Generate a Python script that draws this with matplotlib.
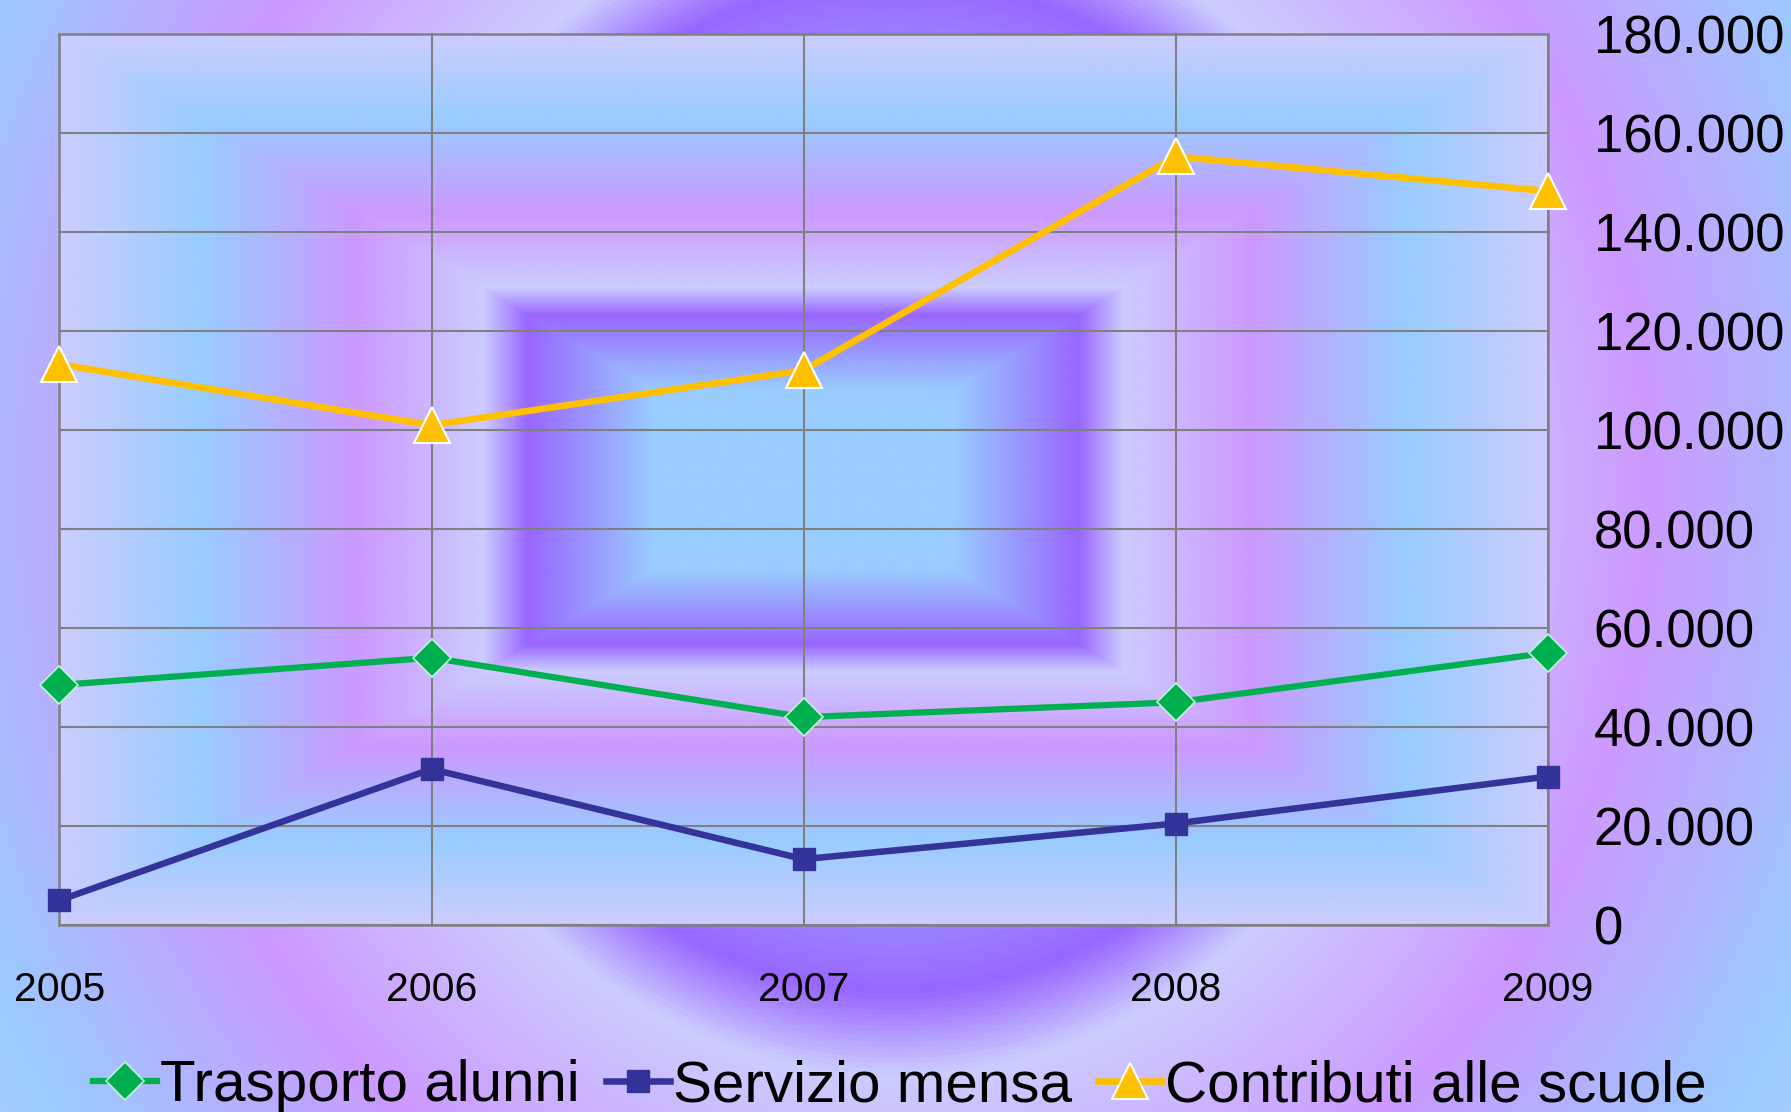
import numpy as np
import matplotlib
matplotlib.use('Agg')
import matplotlib.pyplot as plt
from matplotlib.colors import LinearSegmentedColormap
from matplotlib.lines import Line2D

# ---- data ----
years = ['2005', '2006', '2007', '2008', '2009']
trasporto = [48500, 54000, 42000, 45000, 55000]
mensa = [5000, 31500, 13300, 20500, 30000]
contributi = [113300, 101000, 112100, 155300, 148300]
y_ticks = [0, 20000, 40000, 60000, 80000, 100000, 120000, 140000, 160000, 180000]
series_names = ['Trasporto alunni', 'Servizio mensa', 'Contributi alle scuole']

plt.rcParams['font.family'] = ['Liberation Sans', 'DejaVu Sans']

W, H = 1791, 1112
fig = plt.figure(figsize=(W / 100, H / 100), dpi=100)

stops = [(0.0, '#99CCFF'), (0.2, '#99CCFF'), (0.37, '#9966FF'), (0.43, '#CCCCFF'),
         (0.6, '#CC99FF'), (0.81, '#99CCFF'), (1.0, '#CCCCFF')]
cmap = LinearSegmentedColormap.from_list('bg', stops)

# figure background (elliptical gradient)
bg = fig.add_axes([0, 0, 1, 1], zorder=-10)
yy, xx = np.mgrid[0:H, 0:W] + 0.5
d = np.sqrt(((xx - 895.5) / 1250.0) ** 2 + ((yy - 485.0) / 1371.0) ** 2)
bg.imshow(cmap(np.clip(d, 0, 1)), extent=[0, 1, 0, 1], aspect='auto', origin='upper',
          interpolation='bilinear')

# plot-area (rectangular gradient)
L, R, B, T = 0.0332, 0.8642, 0.1682, 0.9692
pw, ph = int((R - L) * W), int((T - B) * H)
v, u = np.mgrid[-1:1:ph * 1j, -1:1:pw * 1j]
dr = np.maximum(np.abs(u), np.abs(v))
bg.imshow(cmap(dr), extent=[L, R, B, T], aspect='auto', origin='upper', interpolation='bilinear')
bg.set_xlim(0, 1)
bg.set_ylim(0, 1)
bg.axis('off')

ax = fig.add_axes([L, B, R - L, T - B])
ax.set_facecolor('none')
x = np.arange(len(years))

style_g = dict(color='#00B050', lw=4.5, marker='D', ms=19, mfc='#00B050', mec='#C8F0D8', mew=1.2)
style_b = dict(color='#333399', lw=4.7, marker='s', ms=16, mfc='#333399', mec='#333399', mew=1)
style_y = dict(color='#FFC000', lw=4.8, marker='^', ms=26, mfc='#FFC000', mec='white', mew=1.5)

ax.plot(x, trasporto, zorder=5, clip_on=False, **style_g)
ax.plot(x, mensa, zorder=5, clip_on=False, **style_b)
ax.plot(x, contributi, zorder=5, clip_on=False, **style_y)

ax.set_xlim(0, len(years) - 1)
ax.set_ylim(y_ticks[0], y_ticks[-1])
ax.set_xticks(x)
ax.set_xticklabels(years, fontsize=29.5)
ax.set_yticks(y_ticks)
ax.set_yticklabels([f"{t:,}".replace(',', '.') for t in y_ticks], fontsize=38)
ax.yaxis.tick_right()
ax.tick_params(axis='x', length=0, pad=33)
ax.tick_params(axis='y', length=0, pad=33)
ax.grid(True, color='#808080', lw=1.5, zorder=1)
ax.set_axisbelow(True)
for s in ax.spines.values():
    s.set_color('#808080')
    s.set_linewidth(1.8)

handles = [Line2D([], [], **style_g), Line2D([], [], **style_b), Line2D([], [], **style_y)]
fig.legend(handles, series_names, loc='center', bbox_to_anchor=(900 / W, 1 - 1086 / H), ncol=3,
           frameon=False, fontsize=42, handlelength=1.1, handletextpad=0.05, columnspacing=0.45,
           borderpad=0, borderaxespad=0)

fig.savefig('out.png', dpi=100)
